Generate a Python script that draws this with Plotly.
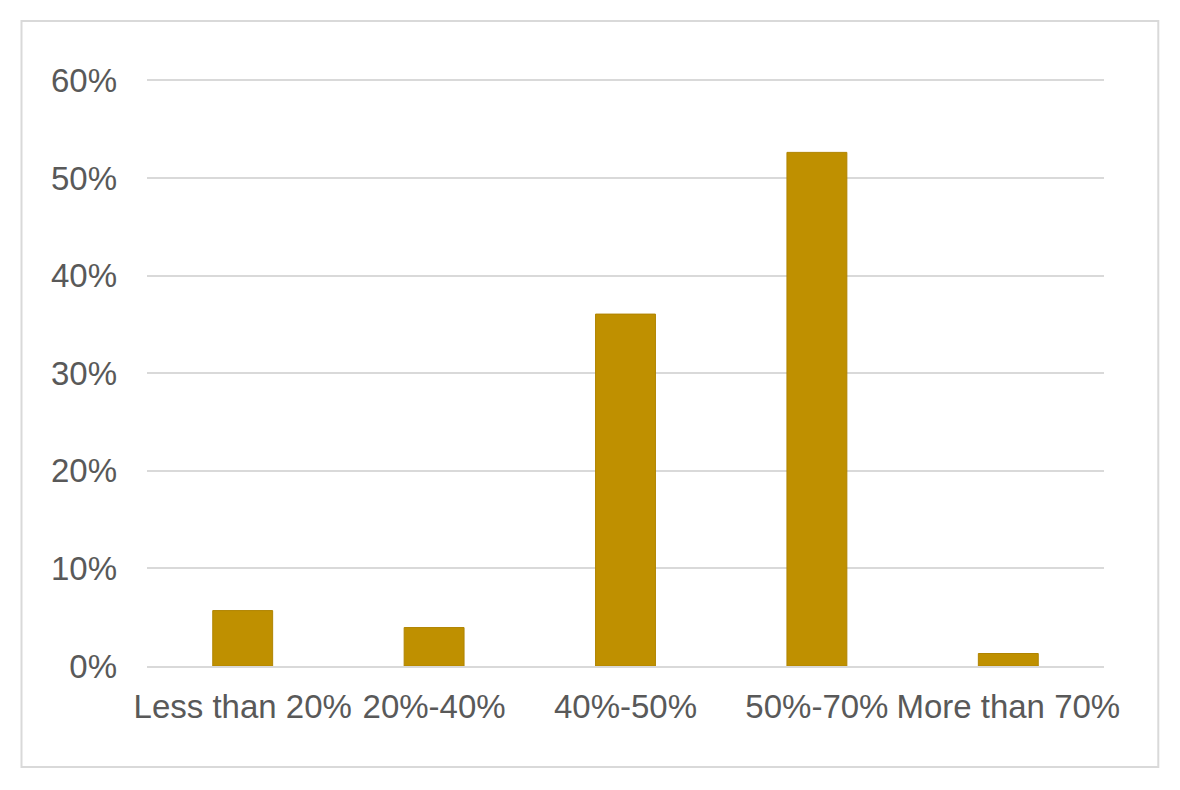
import plotly.graph_objects as go

categories = ["Less than 20%", "20%-40%", "40%-50%", "50%-70%", "More than 70%"]
values = [0.0568, 0.0394, 0.3606, 0.5263, 0.0128]
y_ticks = [0, 0.1, 0.2, 0.3, 0.4, 0.5, 0.6]
y_tick_labels = ["0%", "10%", "20%", "30%", "40%", "50%", "60%"]

# page body has an 8px default margin; shift figure coordinates accordingly
OFF = 8
W, H = 1180, 790
y_top = 0.6015
plot_left, plot_right = 147 - OFF, 1104 - OFF
zero_y = 666.5 - OFF
sixty_y = 80 - OFF
px_per_unit = (zero_y - sixty_y) / 0.6
plot_top = zero_y - px_per_unit * y_top

L, R, T, B = plot_left, W - plot_right, plot_top, H - zero_y
pw, ph = W - L - R, H - T - B

def px_x(x):
    return (x - OFF - L) / pw

def px_y(y):
    return (H - B - (y - OFF)) / ph

fig = go.Figure(
    go.Bar(
        x=categories,
        y=values,
        marker=dict(color="#BF9000", line=dict(color="#B08400", width=1)),
        width=0.313,
        hoverinfo="skip",
    )
)

fig.update_layout(
    width=W,
    height=H,
    margin=dict(l=L, r=R, t=T, b=B, autoexpand=False),
    paper_bgcolor="white",
    plot_bgcolor="white",
    showlegend=False,
    font=dict(family="Liberation Sans, Arial, sans-serif", size=33, color="#595959"),
    xaxis=dict(
        tickangle=0,
        showgrid=False,
        showline=True,
        linecolor="#d9d9d9",
        linewidth=2,
        ticks="",
        ticklabelstandoff=10,
        tickfont=dict(size=33, color="#595959"),
    ),
    yaxis=dict(
        range=[0, y_top],
        tickvals=y_ticks,
        ticktext=y_tick_labels,
        showgrid=True,
        gridcolor="#d9d9d9",
        gridwidth=2,
        zeroline=False,
        showline=False,
        ticks="",
        ticklabelstandoff=29,
        tickfont=dict(size=33, color="#595959"),
    ),
    shapes=[
        dict(
            type="rect",
            xref="paper",
            yref="paper",
            x0=px_x(21.5),
            x1=px_x(1158.3),
            y0=px_y(767.7),
            y1=px_y(20.5),
            line=dict(color="#d9d9d9", width=2),
            fillcolor="rgba(0,0,0,0)",
            layer="below",
        )
    ],
)

fig.write_html("out.html")
